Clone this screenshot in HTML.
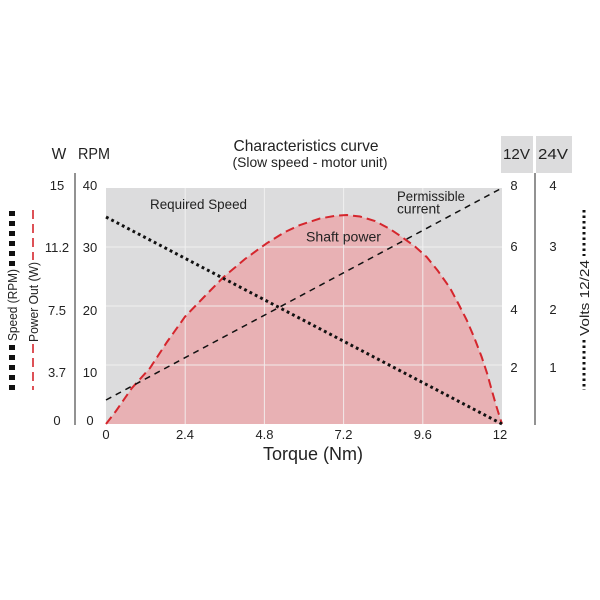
<!DOCTYPE html>
<html><head><meta charset="utf-8"><style>
html,body{margin:0;padding:0;background:#fff;}
svg{display:block;}
text{font-family:"Liberation Sans",Arial,sans-serif;fill:#222;}
</style></head><body>
<svg width="600" height="600" viewBox="0 0 600 600" xmlns="http://www.w3.org/2000/svg">
<rect width="600" height="600" fill="#fff"/>
<!-- plot background -->
<rect x="106" y="188" width="396" height="236" fill="#dcdcdd"/>
<!-- power fill -->
<polygon fill="#e8b1b4" points="106,424 116,411 131.7,388.3 150,368 167,342 185,316.7 204,297 223.3,277.3 245,259 266.7,243.3 285,232 300,225 320,218.5 335,215.8 346.7,215 360,216.5 375,221 390,229 403.3,238 415,246.5 426.7,257 438,271 450,288 458,303 466.7,320 474,337 481.7,357 487,373 491.7,390 496,405 500,418 502,424"/>
<!-- gridlines -->
<g stroke="#f4f4f4" stroke-width="1" opacity="0.85">
<line x1="185.2" y1="188" x2="185.2" y2="424"/>
<line x1="264.4" y1="188" x2="264.4" y2="424"/>
<line x1="343.6" y1="188" x2="343.6" y2="424"/>
<line x1="422.8" y1="188" x2="422.8" y2="424"/>
<line x1="106" y1="247" x2="502" y2="247"/>
<line x1="106" y1="306" x2="502" y2="306"/>
<line x1="106" y1="365" x2="502" y2="365"/>
</g>
<!-- power curve -->
<polyline fill="none" stroke="#d5262d" stroke-width="2" stroke-dasharray="9 5" points="106,424 116,411 131.7,388.3 150,368 167,342 185,316.7 204,297 223.3,277.3 245,259 266.7,243.3 285,232 300,225 320,218.5 335,215.8 346.7,215 360,216.5 375,221 390,229 403.3,238 415,246.5 426.7,257 438,271 450,288 458,303 466.7,320 474,337 481.7,357 487,373 491.7,390 496,405 500,418 502,424"/>
<!-- current line -->
<line x1="106" y1="400" x2="502" y2="188" stroke="#111" stroke-width="1.5" stroke-dasharray="6 5"/>
<!-- speed line -->
<line x1="106" y1="217" x2="502" y2="424" stroke="#111" stroke-width="3" stroke-dasharray="2.8 3.2"/>

<!-- axis lines -->
<line x1="75" y1="173" x2="75" y2="425" stroke="#777" stroke-width="1.6"/>
<line x1="535" y1="173" x2="535" y2="425" stroke="#777" stroke-width="1.6"/>
<!-- header boxes -->
<rect x="501" y="136" width="32" height="37" fill="#dcdcdd"/>
<rect x="536" y="136" width="36" height="37" fill="#dcdcdd"/>

<!-- titles -->
<text x="306" y="151" font-size="16" text-anchor="middle" textLength="145" lengthAdjust="spacingAndGlyphs">Characteristics curve</text>
<text x="310" y="167" font-size="13.5" text-anchor="middle" textLength="155" lengthAdjust="spacingAndGlyphs">(Slow speed - motor unit)</text>
<text x="59" y="159" font-size="15.5" text-anchor="middle">W</text>
<text x="94" y="159" font-size="15.5" text-anchor="middle" textLength="32" lengthAdjust="spacingAndGlyphs">RPM</text>
<text x="516.5" y="159" font-size="15" text-anchor="middle" textLength="27" lengthAdjust="spacingAndGlyphs">12V</text>
<text x="553" y="159" font-size="15" text-anchor="middle" textLength="30" lengthAdjust="spacingAndGlyphs">24V</text>

<!-- left ticks -->
<g font-size="13" text-anchor="middle">
<text x="57" y="190">15</text>
<text x="57" y="252">11.2</text>
<text x="57" y="315">7.5</text>
<text x="57" y="377">3.7</text>
<text x="57" y="425">0</text>
<text x="90" y="190">40</text>
<text x="90" y="252">30</text>
<text x="90" y="315">20</text>
<text x="90" y="377">10</text>
<text x="90" y="425">0</text>
<!-- right ticks -->
<text x="514" y="190">8</text>
<text x="514" y="251">6</text>
<text x="514" y="314">4</text>
<text x="514" y="372">2</text>
<text x="553" y="190">4</text>
<text x="553" y="251">3</text>
<text x="553" y="314">2</text>
<text x="553" y="372">1</text>
<!-- x ticks -->
<text x="106" y="439">0</text>
<text x="185" y="439">2.4</text>
<text x="264.5" y="439">4.8</text>
<text x="343.5" y="439">7.2</text>
<text x="422.8" y="439">9.6</text>
<text x="500" y="439">12</text>
</g>
<text x="313" y="460" font-size="18" text-anchor="middle" textLength="100" lengthAdjust="spacingAndGlyphs">Torque (Nm)</text>

<!-- annotations -->
<text x="150" y="209" font-size="14" textLength="97" lengthAdjust="spacingAndGlyphs">Required Speed</text>
<text x="306" y="241.5" font-size="14" textLength="75" lengthAdjust="spacingAndGlyphs">Shaft power</text>
<text x="397" y="201" font-size="14" textLength="68" lengthAdjust="spacingAndGlyphs">Permissible</text>
<text x="397" y="213.5" font-size="14" textLength="43" lengthAdjust="spacingAndGlyphs">current</text>

<!-- left legends -->
<line x1="12" y1="211" x2="12" y2="266" stroke="#111" stroke-width="6" stroke-dasharray="5 5"/>
<line x1="12" y1="345" x2="12" y2="390" stroke="#111" stroke-width="6" stroke-dasharray="5 5"/>
<text transform="translate(17 305) rotate(-90)" font-size="13" text-anchor="middle" textLength="72" lengthAdjust="spacingAndGlyphs">Speed (RPM)</text>
<line x1="33" y1="210" x2="33" y2="260" stroke="#d5262d" stroke-width="1.6" stroke-dasharray="9 5"/>
<line x1="33" y1="344" x2="33" y2="390" stroke="#d5262d" stroke-width="1.6" stroke-dasharray="9 5"/>
<text transform="translate(38 302) rotate(-90)" font-size="13" text-anchor="middle" textLength="80" lengthAdjust="spacingAndGlyphs">Power Out (W)</text>
<!-- right legend -->
<line x1="584" y1="210" x2="584" y2="256" stroke="#111" stroke-width="3" stroke-dasharray="2.5 3"/>
<line x1="584" y1="340" x2="584" y2="390" stroke="#111" stroke-width="3" stroke-dasharray="2.5 3"/>
<text transform="translate(589 298) rotate(-90)" font-size="13" text-anchor="middle" textLength="76" lengthAdjust="spacingAndGlyphs">Volts 12/24</text>
</svg>
</body></html>
